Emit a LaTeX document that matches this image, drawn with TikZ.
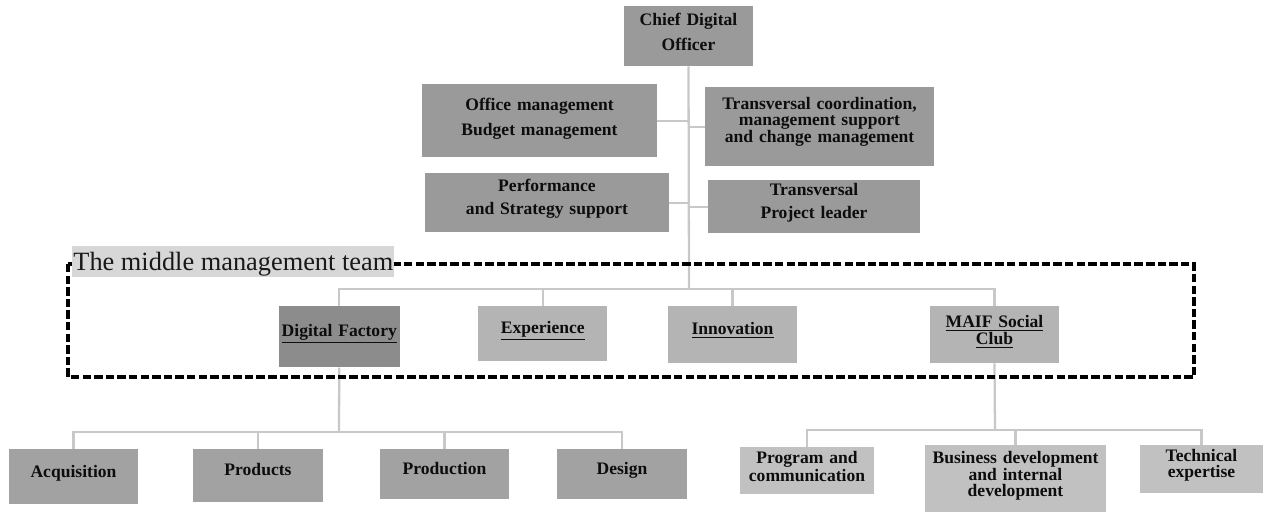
\documentclass[tikz,border=0pt]{standalone}
\usepackage{fontspec}
\setmainfont{Liberation Serif}
\usepackage{xcolor}
\usepackage{tikz}

\definecolor{topgray}{HTML}{9A9A9A}
\definecolor{dfgray}{HTML}{8C8C8C}
\definecolor{midgray}{HTML}{B4B4B4}
\definecolor{lowgray}{HTML}{A2A2A2}
\definecolor{palegray}{HTML}{C1C1C1}
\definecolor{linegray}{HTML}{C8C8C8}
\definecolor{labelgray}{HTML}{D7D7D7}

\begin{document}
\begin{tikzpicture}[
    x=0.02cm, y=-0.02cm,
    box/.style={rectangle, fill=topgray, anchor=north, inner sep=0pt, align=center,
                font=\bfseries\fontsize{10}{9}\selectfont, text=black!95},
    conn/.style={draw=linegray, line width=1.3pt},
    teamframe/.style={draw=black, line width=1.8pt, dash pattern=on 4.8pt off 1.8pt},
    teamlabel/.style={rectangle, fill=labelgray, anchor=north west, inner sep=0pt,
                      font=\fontsize{15}{18}\selectfont, text=black!90}
]
\useasboundingbox (0,0) rectangle (1266,512);

% top level and staff
\node[box, text width=2.58cm, text height=10.8pt, text depth=23.2pt] (cdo) at (688.5,6) {Chief Digital\\[4pt]Officer};
\node[box, text width=4.70cm, text height=14.7pt, text depth=26.6pt] (office) at (539.5,84) {Office management\\[4pt]Budget management};
\node[box, text width=4.58cm, text height=12.5pt, text depth=32.3pt] (coord) at (819.5,87) {Transversal coordination,\\management support\\and change management};
\node[box, text width=4.88cm, text height=10.2pt, text depth=23.2pt] (perf) at (547,173) {Performance\\[4pt]and Strategy support};
\node[box, text width=4.24cm, text height=8.5pt, text depth=21.5pt] (tpl) at (814,180) {Transversal\\[4pt]Project leader};

% middle management
\node[box, fill=dfgray, text width=2.43cm, text height=17pt, text depth=17.6pt] (df) at (339.25,306) {\underline{Digital Factory}};
\node[box, fill=midgray, text width=2.59cm, text height=15.3pt, text depth=15.9pt] (exp) at (542.75,306) {\underline{Experience}};
\node[box, fill=midgray, text width=2.58cm, text height=15.9pt, text depth=16.4pt] (inn) at (732.5,306) {\underline{Innovation}};
\node[box, fill=midgray, text width=2.58cm, text height=11.9pt, text depth=20.4pt] (maif) at (994.5,306) {\underline{MAIF Social}\\\underline{Club}};

% digital factory teams
\node[box, fill=lowgray, text width=2.58cm, text height=15.9pt, text depth=15.3pt] (acq) at (73.5,449) {Acquisition};
\node[box, fill=lowgray, text width=2.60cm, text height=14.7pt, text depth=15.3pt] (prod) at (258,449) {Products};
\node[box, fill=lowgray, text width=2.58cm, text height=14.2pt, text depth=14.2pt] (prdn) at (444.5,449) {Production};
\node[box, fill=lowgray, text width=2.60cm, text height=14.2pt, text depth=14.2pt] (des) at (622,449) {Design};

% social club teams
\node[box, fill=palegray, text width=2.68cm, text height=9.1pt, text depth=17.6pt] (prog) at (807,447) {Program and\\communication};
\node[box, fill=palegray, text width=3.62cm, text height=10.2pt, text depth=27.8pt] (bdev) at (1015.5,445) {Business development\\and internal\\development};
\node[box, fill=palegray, text width=2.46cm, text height=9.1pt, text depth=18.1pt] (tech) at (1201.5,445) {Technical\\expertise};

\coordinate (midbus) at (689,289);
\coordinate (dfbus) at (339,432);
\coordinate (clubbus) at (995,430);

\draw[conn] (cdo.south) -- (midbus);
\draw[conn] (office.east) -- (office.east -| cdo.south);
\draw[conn] (coord.west) -- (coord.west -| cdo.south);
\draw[conn] (perf.east) -- (perf.east -| cdo.south);
\draw[conn] (tpl.west) -- (tpl.west -| cdo.south);

\draw[conn] (df.north) |- (midbus) -| (maif.north);
\draw[conn] (exp.north) -- (exp.north |- midbus);
\draw[conn] (inn.north) -- (inn.north |- midbus);

\draw[conn] (df.south) -- (dfbus);
\draw[conn] (acq.north) |- (dfbus) -| (des.north);
\draw[conn] (prod.north) -- (prod.north |- dfbus);
\draw[conn] (prdn.north) -- (prdn.north |- dfbus);

\draw[conn] (maif.south) -- (clubbus);
\draw[conn] (prog.north) |- (clubbus) -| (tech.north);
\draw[conn] (bdev.north) -- (bdev.north |- clubbus);

\draw[teamframe] (68,264) rectangle (1194,377);
\node[teamlabel, minimum width=6.44cm, text height=13.6pt, text depth=4pt] (teamlbl) at (72,246) {The middle management team};
\end{tikzpicture}
\end{document}
